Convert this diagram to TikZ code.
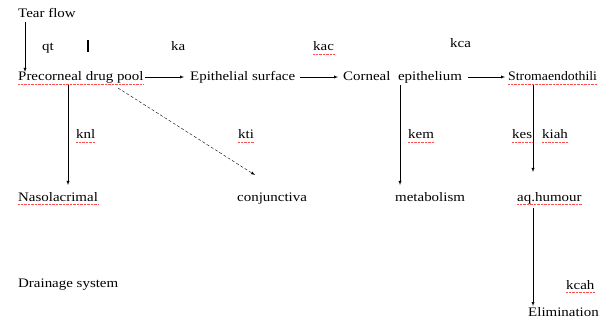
\documentclass[tikz,border=0pt]{standalone}
\usepackage{fontspec}
\setmainfont{Liberation Serif}[FakeStretch=1.15]
\newfontfamily\narrowfont{Liberation Serif}[FakeStretch=1.06]
\usepackage{xcolor}
\usetikzlibrary{arrows}

\tikzset{
  txt/.style={anchor=base west,inner sep=0pt,font=\fontsize{13}{15}\selectfont},
  typo/.style={append after command={([yshift=-3pt]\tikzlastnode.base west) edge[red!70,densely dotted,thin] ([yshift=-3pt]\tikzlastnode.base east)}},
  flow/.style={->,>=latex,thin}
}

\begin{document}
\begin{tikzpicture}[x=1pt,y=-1pt]
\useasboundingbox (0,0) rectangle (601,320);
% compartments
\node[txt] (tear) at (18,18) {Tear flow};
\node[txt,typo] (pool) at (18,81) {Precorneal drug pool};
\node[txt] (epi) at (190,81) {Epithelial surface};
\node[txt] (cor) at (343,81) {Corneal\ \ epithelium};
\node[txt,typo,font=\narrowfont\fontsize{13}{15}\selectfont] (stro) at (508,81) {Stromaendothili};
\node[txt,typo] (naso) at (18,201) {Nasolacrimal};
\node[txt] (conj) at (237,201) {conjunctiva};
\node[txt] (meta) at (395,201) {metabolism};
\node[txt,typo] (aq) at (517,201) {aq.humour};
\node[txt] (drain) at (18,287) {Drainage system};
\node[txt] (elim) at (528,316) {Elimination};
% rate constants
\node[txt] (qt) at (42,51) {qt};
\node[txt] (ka) at (171,51) {ka};
\node[txt,typo] (kac) at (313,51) {kac};
\node[txt] (kca) at (450,48) {kca};
\node[txt,typo] (knl) at (76,139) {knl};
\node[txt,typo] (kti) at (238,139) {kti};
\node[txt,typo] (kem) at (408,139) {kem};
\node[txt,typo] (kes) at (512,139) {kes};
\node[txt,typo] (kiah) at (542,139) {kiah};
\node[txt,typo] (kcah) at (566,289) {kcah};
\draw[line width=1.3pt] (88,40) -- (88,52);
% connectors
\draw[flow] ([xshift=7pt,yshift=-4pt]tear.base west) -- ([xshift=7pt,yshift=9pt]pool.base west);
\draw[flow] ([xshift=1pt,yshift=4pt]pool.base east) -- ([xshift=-6pt,yshift=4pt]epi.base west);
\draw[flow] ([xshift=5pt,yshift=4pt]epi.base east) -- ([xshift=-5pt,yshift=4pt]cor.base west);
\draw[flow] ([xshift=6pt,yshift=4pt]cor.base east) -- ([xshift=-3pt,yshift=4pt]stro.base west);
\draw[flow] ([xshift=50pt,yshift=-4pt]pool.base west) -- ([xshift=50pt,yshift=16pt]naso.base west);
\draw[flow,densely dashed] ([xshift=100pt,yshift=-7pt]pool.base west) -- ([xshift=18pt,yshift=26pt]conj.base west);
\draw[flow] ([xshift=57pt,yshift=-4pt]cor.base west) -- ([xshift=5pt,yshift=16pt]meta.base west);
\draw[flow] ([xshift=25pt,yshift=-4pt]stro.base west) -- ([xshift=16pt,yshift=29pt]aq.base west);
\draw[flow] ([xshift=16pt,yshift=-7pt]aq.base west) -- ([xshift=5pt,yshift=10pt]elim.base west);
\end{tikzpicture}
\end{document}
